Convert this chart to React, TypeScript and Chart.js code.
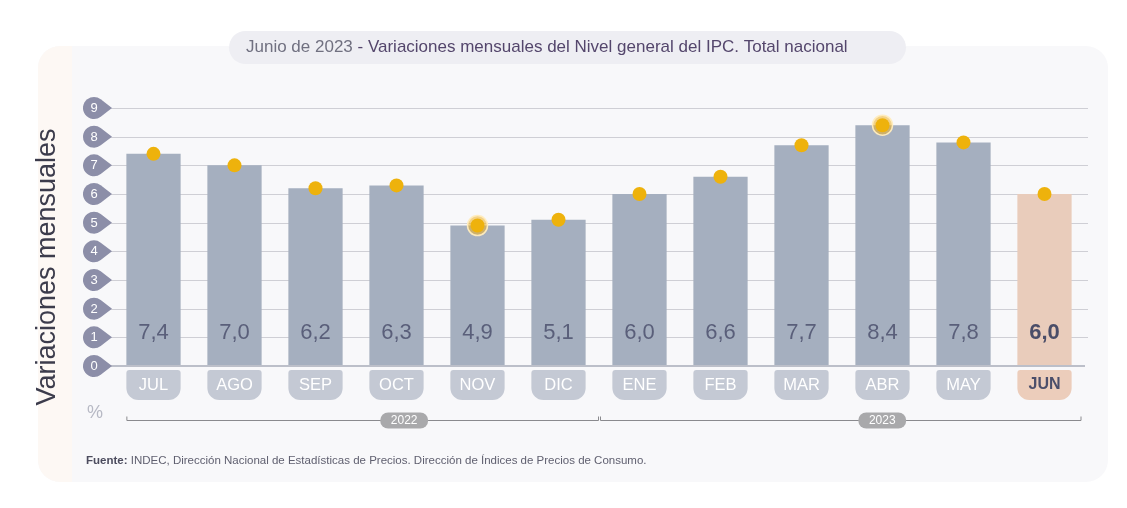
import React, { useEffect, useRef } from "react";
import { Chart, registerables } from "chart.js";

Chart.register(...registerables);

const categories = ["JUL", "AGO", "SEP", "OCT", "NOV", "DIC", "ENE", "FEB", "MAR", "ABR", "MAY", "JUN"];
const values = [7.4, 7.0, 6.2, 6.3, 4.9, 5.1, 6.0, 6.6, 7.7, 8.4, 7.8, 6.0];
const valueLabels = ["7,4", "7,0", "6,2", "6,3", "4,9", "5,1", "6,0", "6,6", "7,7", "8,4", "7,8", "6,0"];
const haloMonths = ["NOV", "ABR"];
const yTicks = [0, 1, 2, 3, 4, 5, 6, 7, 8, 9];
const years = ["2022", "2023"];
const yearCounts = [6, 6];
const highlightIndex = 11;

const FONT = "'Liberation Sans', Arial, sans-serif";

function drawBadge(ctx: CanvasRenderingContext2D, cx: number, cy: number, label: string) {
  const r = 11;
  const tipX = cx + 18;
  const a = Math.acos(r / 18);
  ctx.beginPath();
  ctx.arc(cx, cy, r, a, 2 * Math.PI - a);
  ctx.lineTo(tipX, cy);
  ctx.closePath();
  ctx.fillStyle = "#8c8ea8";
  ctx.fill();
  ctx.fillStyle = "#ffffff";
  ctx.font = `13px ${FONT}`;
  ctx.textAlign = "center";
  ctx.textBaseline = "middle";
  ctx.fillText(label, cx, cy + 0.5);
}

const decorPlugin = {
  id: "decor",
  beforeDraw(chart: any) {
    const ctx: CanvasRenderingContext2D = chart.ctx;
    ctx.save();
    ctx.fillStyle = "#ffffff";
    ctx.fillRect(0, 0, chart.width, chart.height);
    // card
    ctx.beginPath();
    ctx.roundRect(38, 46, 1070, 436, 22);
    ctx.fillStyle = "#f8f8fa";
    ctx.fill();
    ctx.save();
    ctx.clip();
    ctx.fillStyle = "#fdf8f4";
    ctx.fillRect(38, 46, 34, 436);
    ctx.restore();
    // title pill
    ctx.beginPath();
    ctx.roundRect(229, 31, 677, 33, 16.5);
    ctx.fillStyle = "#eeeef3";
    ctx.fill();
    ctx.font = `17px ${FONT}`;
    ctx.textBaseline = "middle";
    ctx.textAlign = "left";
    const p1 = "Junio de 2023";
    const p2 = " - Variaciones mensuales del Nivel general del IPC. Total nacional";
    ctx.fillStyle = "#707080";
    ctx.fillText(p1, 246, 47.5);
    const w1 = ctx.measureText(p1).width;
    ctx.fillStyle = "#54466c";
    ctx.fillText(p2, 246 + w1, 47.5);
    // y title
    ctx.save();
    ctx.translate(48, 267);
    ctx.rotate(-Math.PI / 2);
    ctx.font = `27px ${FONT}`;
    ctx.fillStyle = "#3c3c4c";
    ctx.textAlign = "center";
    ctx.textBaseline = "middle";
    ctx.fillText("Variaciones mensuales", 0, 0);
    ctx.restore();
    // percent
    ctx.font = `18px ${FONT}`;
    ctx.fillStyle = "#b7b9c4";
    ctx.textAlign = "center";
    ctx.fillText("%", 95, 413);
    // footnote
    ctx.font = `bold 11.5px ${FONT}`;
    ctx.textAlign = "left";
    ctx.fillStyle = "#4c4c5e";
    const f1 = "Fuente:";
    ctx.fillText(f1, 86, 461);
    const fw = ctx.measureText(f1).width;
    ctx.font = `11.5px ${FONT}`;
    ctx.fillStyle = "#606070";
    ctx.fillText(" INDEC, Dirección Nacional de Estadísticas de Precios. Dirección de Índices de Precios de Consumo.", 86 + fw, 461);
    ctx.restore();
  },
  beforeDatasetsDraw(chart: any) {
    const ctx: CanvasRenderingContext2D = chart.ctx;
    const ys = chart.scales.y;
    ctx.save();
    yTicks.forEach((t) => {
      const y = Math.round(ys.getPixelForValue(t)) + 0.5;
      if (t > 0) {
        ctx.beginPath();
        ctx.moveTo(110, y);
        ctx.lineTo(1088, y);
        ctx.strokeStyle = "#cfcfd5";
        ctx.lineWidth = 1;
        ctx.stroke();
      }
    });
    ctx.restore();
  },
  afterDatasetsDraw(chart: any) {
    const ctx: CanvasRenderingContext2D = chart.ctx;
    const ys = chart.scales.y;
    const xs = chart.scales.x;
    const meta = chart.getDatasetMeta(0);
    ctx.save();
    // zero line
    const y0 = ys.getPixelForValue(0);
    ctx.beginPath();
    ctx.moveTo(110, y0);
    ctx.lineTo(1085, y0);
    ctx.strokeStyle = "#bcbfc9";
    ctx.lineWidth = 2;
    ctx.stroke();
    // badges
    yTicks.forEach((t) => drawBadge(ctx, 94, ys.getPixelForValue(t), String(t)));
    // category pills + value labels
    categories.forEach((c, i) => {
      const el = meta.data[i];
      const cx = xs.getPixelForValue(i);
      const w = el.width;
      const hi = i === highlightIndex;
      ctx.beginPath();
      ctx.roundRect(cx - w / 2, 370, w, 30, [3, 3, 12, 12]);
      ctx.fillStyle = hi ? "#eccdbb" : "#c4c9d4";
      ctx.fill();
      ctx.textAlign = "center";
      ctx.textBaseline = "middle";
      ctx.font = hi ? `bold 16px ${FONT}` : `16.5px ${FONT}`;
      ctx.fillStyle = hi ? "#4b4e6a" : "#ffffff";
      ctx.fillText(c, cx, 385);
      ctx.font = hi ? `bold 22px ${FONT}` : `22px ${FONT}`;
      ctx.fillStyle = hi ? "#4a4d68" : "#5a5f7a";
      ctx.fillText(valueLabels[i], cx, 333);
    });
    // year brackets
    let start = 0;
    const by = 420.5;
    years.forEach((yr, g) => {
      const n = yearCounts[g];
      const firstEl = meta.data[start];
      const x1 = g === 0 ? xs.getPixelForValue(start) - firstEl.width / 2 : (xs.getPixelForValue(start - 1) + xs.getPixelForValue(start)) / 2 + 1;
      const last = start + n - 1;
      const x2 = g === years.length - 1 ? xs.getPixelForValue(last) + 36 : (xs.getPixelForValue(last) + xs.getPixelForValue(last + 1)) / 2 - 1;
      ctx.beginPath();
      ctx.moveTo(x1 + 0.5, by - 4);
      ctx.lineTo(x1 + 0.5, by);
      ctx.lineTo(x2 + 0.5, by);
      ctx.lineTo(x2 + 0.5, by - 4);
      ctx.strokeStyle = "#8a8a8e";
      ctx.lineWidth = 1;
      ctx.stroke();
      const mid = (x1 + x2) / 2 + 42;
      const pw = 48;
      ctx.beginPath();
      ctx.roundRect(mid - pw / 2, by - 8, pw, 16, 8);
      ctx.fillStyle = "#a9a9ab";
      ctx.fill();
      ctx.fillStyle = "#ffffff";
      ctx.font = `12px ${FONT}`;
      ctx.textAlign = "center";
      ctx.textBaseline = "middle";
      ctx.fillText(yr, mid, by + 0.5);
      start += n;
    });
    ctx.restore();
  },
};

export default function App() {
  const ref = useRef<HTMLCanvasElement | null>(null);
  useEffect(() => {
    if (!ref.current) return;
    const haloData = categories.map((c, i) => (haloMonths.includes(c) ? values[i] : null));
    const chart = new Chart(ref.current, {
      type: "bar",
      data: {
        labels: categories,
        datasets: [
          {
            type: "bar",
            data: values,
            backgroundColor: categories.map((_, i) => (i === highlightIndex ? "#e9ccbb" : "#a5afbf")),
            barPercentage: 0.67,
            categoryPercentage: 1,
            order: 3,
          } as any,
          {
            type: "line",
            data: haloData,
            showLine: false,
            pointRadius: 10,
            pointBackgroundColor: "rgba(238,178,40,0.55)",
            pointBorderColor: "rgba(255,236,190,0.95)",
            pointBorderWidth: 1.5,
            order: 2,
          } as any,
          {
            type: "line",
            data: values,
            showLine: false,
            pointRadius: 7,
            pointBackgroundColor: "#eeb20c",
            pointBorderWidth: 0,
            pointBorderColor: "#eeb20c",
            order: 1,
          } as any,
        ],
      },
      options: {
        responsive: false,
        animation: false,
        layout: { padding: { left: 113, right: 42, top: 108, bottom: 142 } },
        plugins: { legend: { display: false }, tooltip: { enabled: false } },
        scales: {
          x: { display: false, offset: true },
          y: { display: false, min: 0, max: 9 },
        },
      },
      plugins: [decorPlugin],
    });
    return () => chart.destroy();
  }, []);
  return (
    <div style={{ position: "absolute", left: 0, top: 0, width: 1127, height: 508 }}>
      <canvas ref={ref} width={1127} height={508} />
    </div>
  );
}
